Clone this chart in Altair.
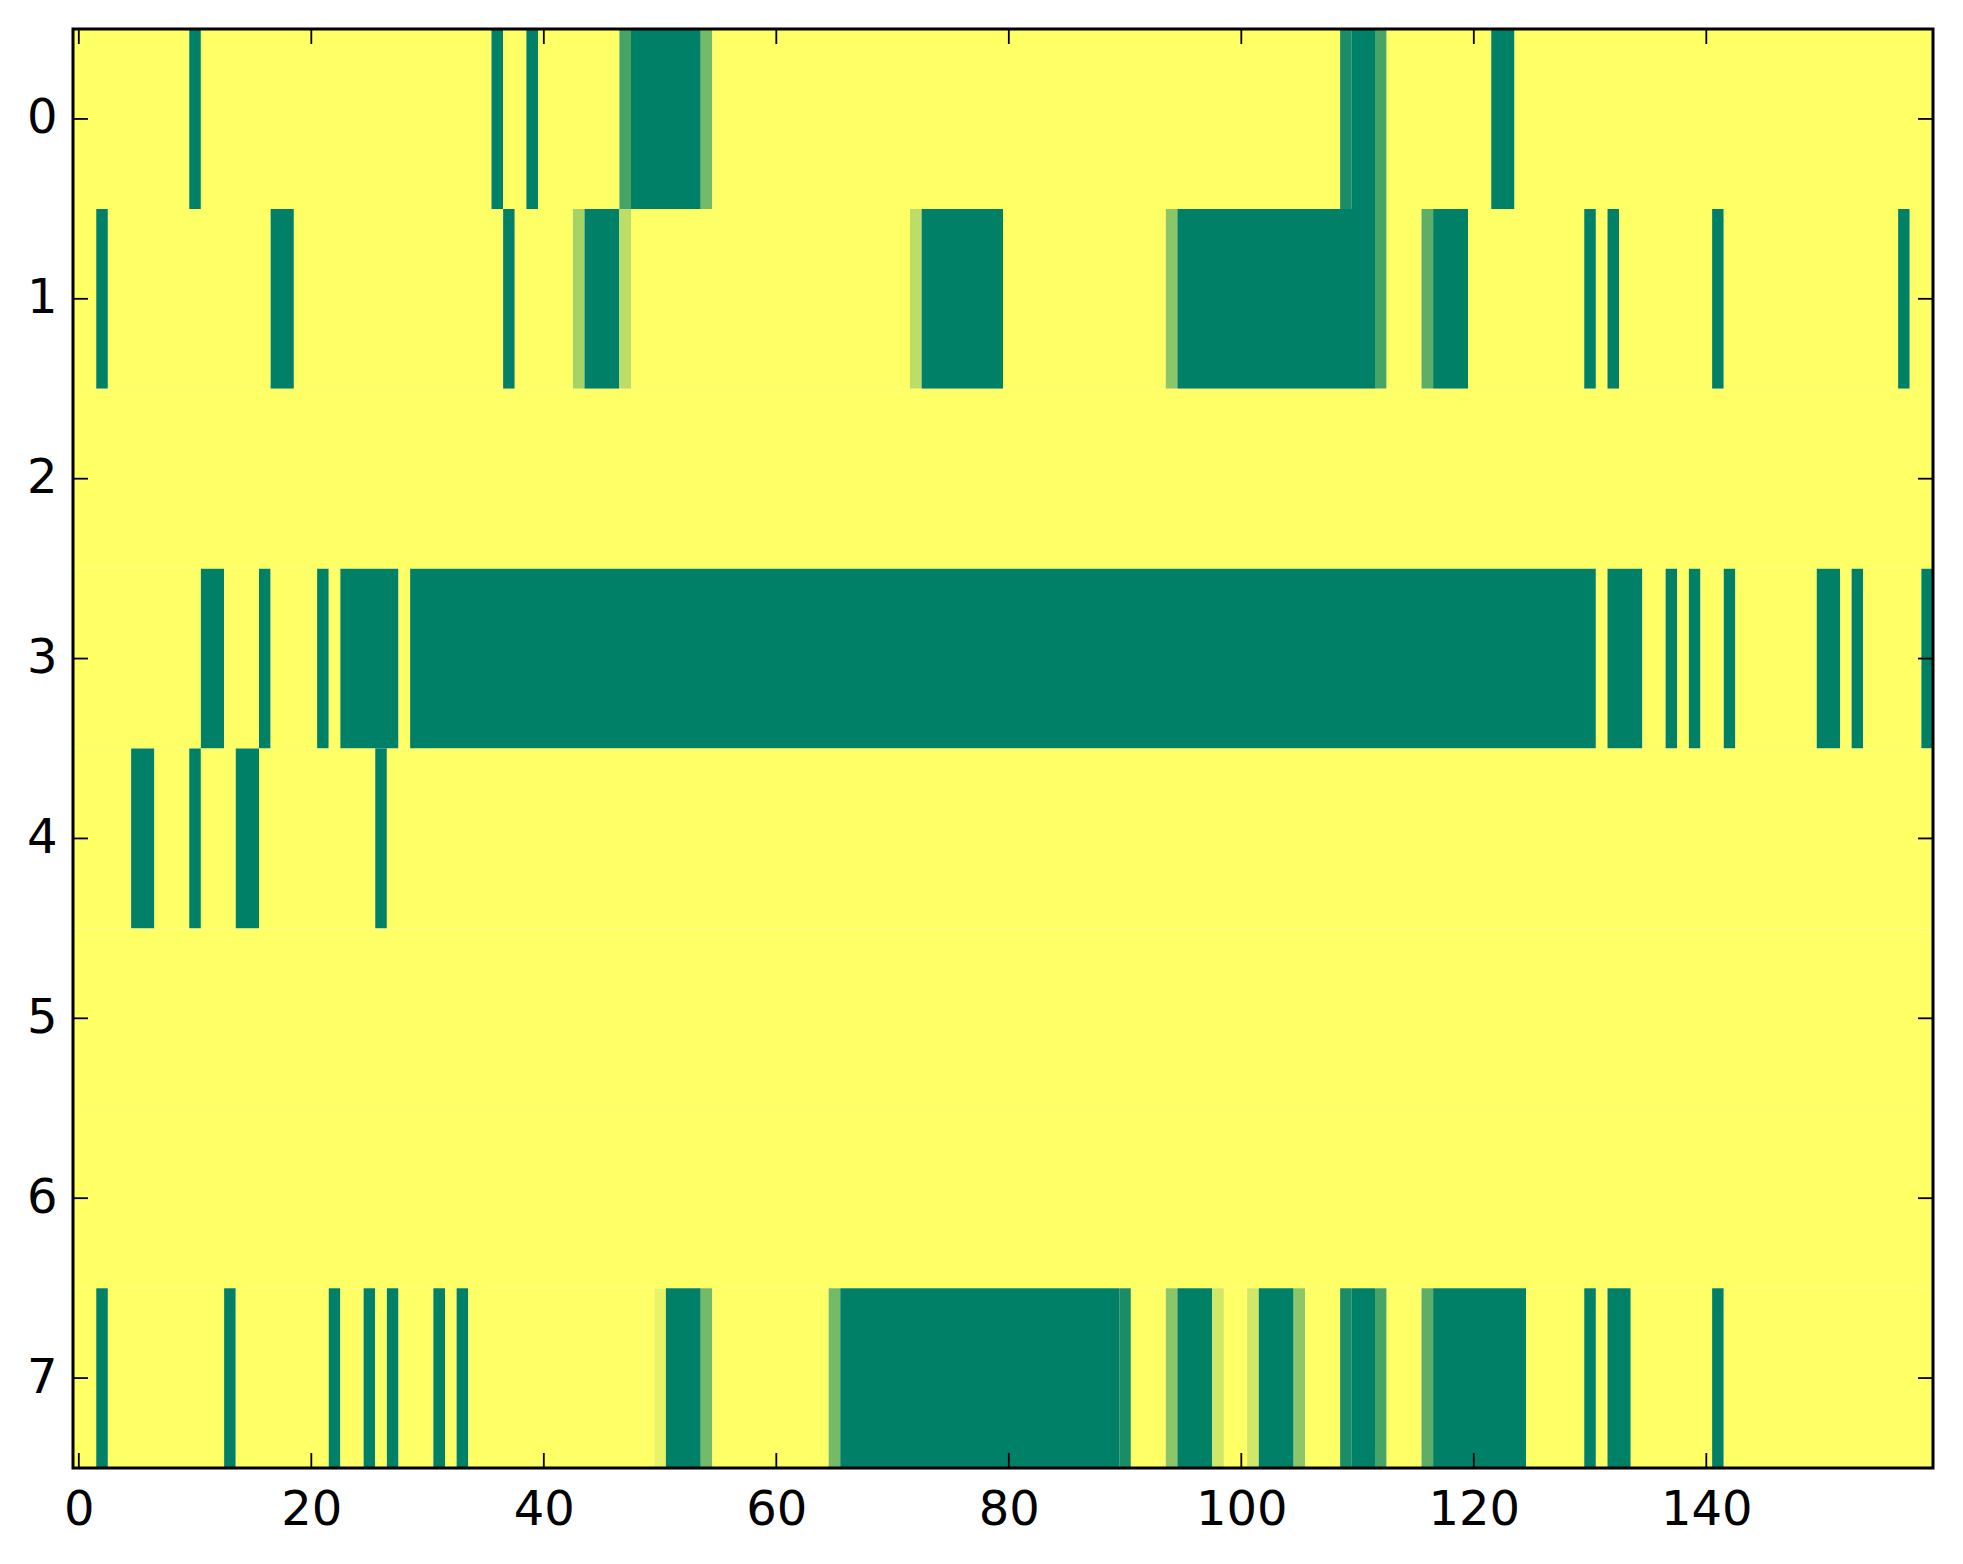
import altair as alt
import numpy as np
import pandas as pd

N_ROWS = 8
N_COLS = 160

# Runs of non-zero cells per row: (first column, last column, value)
row0 = [(10, 10, 1.0), (36, 36, 1.0), (39, 39, 1.0), (47, 47, 0.72), (48, 53, 1.0),
        (54, 54, 0.54), (109, 109, 0.9), (110, 111, 1.0), (112, 112, 0.72), (122, 123, 1.0)]
row1 = [(2, 2, 1.0), (17, 18, 1.0), (37, 37, 1.0), (43, 43, 0.35), (44, 46, 1.0),
        (47, 47, 0.26), (72, 72, 0.26), (73, 79, 1.0), (94, 94, 0.45), (95, 111, 1.0),
        (112, 112, 0.72), (116, 116, 0.63), (117, 119, 1.0), (130, 130, 1.0),
        (132, 132, 1.0), (141, 141, 1.0), (157, 157, 1.0)]
row2 = []
row3 = [(11, 12, 1.0), (16, 16, 1.0), (21, 21, 1.0), (23, 27, 1.0), (29, 130, 1.0),
        (132, 134, 1.0), (137, 137, 1.0), (139, 139, 1.0), (142, 142, 1.0),
        (150, 151, 1.0), (153, 153, 1.0), (159, 159, 1.0)]
row4 = [(5, 6, 1.0), (10, 10, 1.0), (14, 15, 1.0), (26, 26, 1.0)]
row5 = []
row6 = []
row7 = [(2, 2, 1.0), (13, 13, 1.0), (22, 22, 1.0), (25, 25, 1.0), (27, 27, 1.0),
        (31, 31, 1.0), (33, 33, 1.0), (50, 50, 0.09), (51, 53, 1.0), (54, 54, 0.54),
        (65, 65, 0.54), (66, 89, 1.0), (90, 90, 0.9), (94, 94, 0.45), (95, 97, 1.0),
        (98, 98, 0.18), (101, 101, 0.18), (102, 104, 1.0), (105, 105, 0.45),
        (109, 109, 0.9), (110, 111, 1.0), (112, 112, 0.72), (116, 116, 0.63),
        (117, 124, 1.0), (130, 130, 1.0), (132, 133, 1.0), (141, 141, 1.0)]

rows = [row0, row1, row2, row3, row4, row5, row6, row7]

x_ticks = [0, 20, 40, 60, 80, 100, 120, 140]
y_ticks = [0, 1, 2, 3, 4, 5, 6, 7]

# Full matrix from the runs
mat = np.zeros((N_ROWS, N_COLS))
for r, runs in enumerate(rows):
    for a, b, v in runs:
        mat[r, a:b + 1] = v

# Merge equal neighbouring cells into one rectangle each (no seams)
recs = []
for r in range(N_ROWS):
    c = 0
    while c < N_COLS:
        v = mat[r, c]
        e = c
        while e + 1 < N_COLS and mat[r, e + 1] == v:
            e += 1
        recs.append({"row": r, "v": float(v),
                     "x0": c - 0.5, "x1": e + 0.5, "y0": r - 0.5, "y1": r + 0.5})
        c = e + 1
df = pd.DataFrame(recs)

W, H = 1860, 1439
TICK = 15
FONT = "DejaVu Sans"
FS = 48

xs = alt.Scale(domain=[-0.5, N_COLS - 0.5], nice=False, zero=False)
ys = alt.Scale(domain=[-0.5, N_ROWS - 0.5], nice=False, zero=False, reverse=True)
cs = alt.Scale(domain=[0, 1], range=["#ffff66", "#008066"], interpolate="rgb")

x_axis = alt.Axis(values=x_ticks, format="d", ticks=False, domain=False, grid=False,
                  labelFontSize=FS, labelFont=FONT, labelColor="black",
                  labelPadding=18, title=None)
y_axis = alt.Axis(values=y_ticks, format="d", ticks=False, domain=False, grid=False,
                  labelFontSize=FS, labelFont=FONT, labelColor="black",
                  labelPadding=16, title=None)

heat = alt.Chart(df).mark_rect().encode(
    x=alt.X("x0:Q", scale=xs, axis=x_axis),
    x2="x1:Q",
    y=alt.Y("y0:Q", scale=ys, axis=y_axis),
    y2="y1:Q",
    color=alt.Color("v:Q", scale=cs, legend=None),
)

xt = pd.DataFrame({"t": x_ticks})
yt = pd.DataFrame({"t": y_ticks})

tick_style = dict(color="black", strokeWidth=1.8)

bottom_ticks = alt.Chart(xt).mark_rule(**tick_style).encode(
    x=alt.X("t:Q", scale=xs, axis=x_axis), y=alt.value(H), y2=alt.value(H - TICK))
top_ticks = alt.Chart(xt).mark_rule(**tick_style).encode(
    x=alt.X("t:Q", scale=xs, axis=x_axis), y=alt.value(0), y2=alt.value(TICK))
left_ticks = alt.Chart(yt).mark_rule(**tick_style).encode(
    y=alt.Y("t:Q", scale=ys, axis=y_axis), x=alt.value(0), x2=alt.value(TICK))
right_ticks = alt.Chart(yt).mark_rule(**tick_style).encode(
    y=alt.Y("t:Q", scale=ys, axis=y_axis), x=alt.value(W - TICK), x2=alt.value(W))

frame = alt.Chart(pd.DataFrame({"k": [0]})).mark_rect(
    fill=None, fillOpacity=0, stroke="black", strokeWidth=3
).encode(x=alt.value(0), x2=alt.value(W), y=alt.value(0), y2=alt.value(H))

chart = alt.layer(heat, bottom_ticks, top_ticks, left_ticks, right_ticks, frame).properties(
    width=W, height=H,
    autosize=alt.AutoSizeParams(type="none"),
    padding={"left": 65, "top": 21, "right": 18, "bottom": 80},
    background="white",
).configure_view(
    stroke=None
)

chart.save("out.html", embed_options={"renderer": "svg", "actions": False})
